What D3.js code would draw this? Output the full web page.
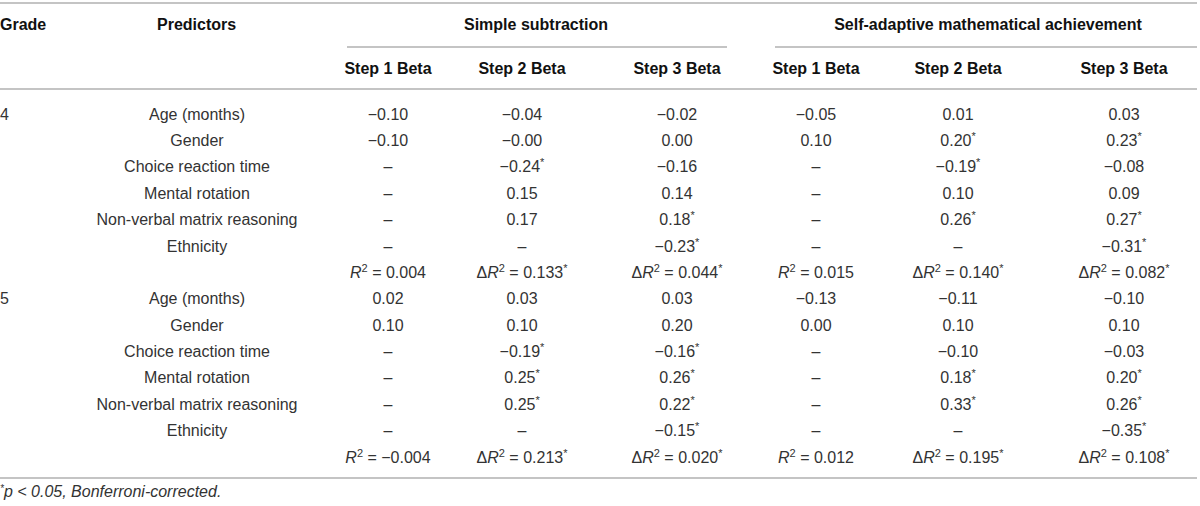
<!DOCTYPE html>
<html>
<head>
<meta charset="utf-8">
<script src="https://cdnjs.cloudflare.com/ajax/libs/d3/7.8.5/d3.min.js"></script>
<style>
  html, body { margin: 0; padding: 0; background: #fff; }
  svg { display: block; }
  text { font-family: "Liberation Sans", Arial, Helvetica, sans-serif; font-size: 16px; fill: #333; }
  .head { font-weight: bold; fill: #111; }
  .rule { stroke: #c4c4c4; stroke-width: 2; }
</style>
</head>
<body>
<div id="table"></div>
<script>
const grades = ["4", "5"];
const predictors = ["Age (months)", "Gender", "Choice reaction time", "Mental rotation",
                    "Non-verbal matrix reasoning", "Ethnicity"];
const groups = ["Simple subtraction", "Self-adaptive mathematical achievement"];
const stepLabels = ["Step 1 Beta", "Step 2 Beta", "Step 3 Beta"];

// betas, grade 4 rows then grade 5 rows ("–" = not entered)
const simpleStep1 = ["−0.10", "−0.10", "–", "–", "–", "–",
                     "0.02", "0.10", "–", "–", "–", "–"];
const simpleStep2 = ["−0.04", "−0.00", "−0.24*", "0.15", "0.17", "–",
                     "0.03", "0.10", "−0.19*", "0.25*", "0.25*", "–"];
const simpleStep3 = ["−0.02", "0.00", "−0.16", "0.14", "0.18*", "−0.23*",
                     "0.03", "0.20", "−0.16*", "0.26*", "0.22*", "−0.15*"];
const selfStep1 = ["−0.05", "0.10", "–", "–", "–", "–",
                   "−0.13", "0.00", "–", "–", "–", "–"];
const selfStep2 = ["0.01", "0.20*", "−0.19*", "0.10", "0.26*", "–",
                   "−0.11", "0.10", "−0.10", "0.18*", "0.33*", "–"];
const selfStep3 = ["0.03", "0.23*", "−0.08", "0.09", "0.27*", "−0.31*",
                   "−0.10", "0.10", "−0.03", "0.20*", "0.26*", "−0.35*"];

// model fit per grade: step 1 is R², steps 2 and 3 are ΔR²
const simpleR2 = [["0.004", "0.133*", "0.044*"], ["−0.004", "0.213*", "0.020*"]];
const selfR2 = [["0.015", "0.140*", "0.082*"], ["0.012", "0.195*", "0.108*"]];

const footnote = "p < 0.05, Bonferroni-corrected.";

// ---- layout ----
const width = 1200, height = 506;
const tableRight = 1197;
const colKeys = ["s1", "s2", "s3", "a1", "a2", "a3"];
const colCenters = [388, 522, 677, 816, 958, 1124];
const groupSpans = [[347, 727], [775, tableRight]];
const groupCenters = [536, 988];

const x = d3.scaleOrdinal().domain(colKeys).range(colCenters);
const stepCols = [simpleStep1, simpleStep2, simpleStep3, selfStep1, selfStep2, selfStep3];
const fitCols = [0, 1, 2].map(i => simpleR2.map(r => r[i]))
  .concat([0, 1, 2].map(i => selfR2.map(r => r[i])));

// 7 rows per grade: six predictors + fit row
const rowCount = grades.length * (predictors.length + 1);
const y = d3.scalePoint().domain(d3.range(rowCount)).range([114, 457]);

const svg = d3.select("#table").append("svg")
  .attr("width", width).attr("height", height);

function rule(y0, x0, x1) {
  svg.append("line").attr("class", "rule")
    .attr("x1", x0).attr("x2", x1).attr("y1", y0).attr("y2", y0);
}

// value with trailing significance star
function valueText(sel, str) {
  const star = str.endsWith("*");
  sel.append("tspan").text(star ? str.slice(0, -1) : str);
  if (star) sel.append("tspan").attr("font-size", 11).attr("dy", -6).text("*");
}

// R² / ΔR² cell
function fitText(sel, str, delta) {
  if (delta) sel.append("tspan").text("Δ");
  sel.append("tspan").attr("font-style", "italic").text("R");
  sel.append("tspan").attr("font-size", 11).attr("dy", -6).text("2");
  const star = str.endsWith("*");
  sel.append("tspan").attr("dy", 6).text(" = " + (star ? str.slice(0, -1) : str));
  if (star) sel.append("tspan").attr("font-size", 11).attr("dy", -6).text("*");
}

// ---- header ----
rule(3, 0, tableRight);
const h1 = 24, h2 = 68;
svg.append("text").attr("class", "head").attr("x", 0).attr("y", h1).attr("dy", "0.35em").text("Grade");
svg.append("text").attr("class", "head").attr("x", 157).attr("y", h1).attr("dy", "0.35em").text("Predictors");
groups.forEach((g, i) => {
  svg.append("text").attr("class", "head").attr("x", groupCenters[i]).attr("y", h1)
    .attr("dy", "0.35em").attr("text-anchor", "middle").text(g);
  rule(47, groupSpans[i][0], groupSpans[i][1]);
});
colKeys.forEach((k, i) => {
  svg.append("text").attr("class", "head").attr("x", x(k)).attr("y", h2)
    .attr("dy", "0.35em").attr("text-anchor", "middle").text(stepLabels[i % 3]);
});
rule(89, 0, tableRight);

// ---- body ----
const predX = 197;
grades.forEach((g, gi) => {
  const base = gi * (predictors.length + 1);
  svg.append("text").attr("x", 0).attr("y", y(base)).attr("dy", "0.35em").text(g);
  predictors.forEach((p, pi) => {
    const r = base + pi;
    svg.append("text").attr("x", predX).attr("y", y(r)).attr("dy", "0.35em")
      .attr("text-anchor", "middle").text(p);
    colKeys.forEach((k, ci) => {
      svg.append("text").attr("x", x(k)).attr("y", y(r)).attr("dy", "0.35em")
        .attr("text-anchor", "middle")
        .call(valueText, stepCols[ci][gi * predictors.length + pi]);
    });
  });
  const fr = base + predictors.length;
  colKeys.forEach((k, ci) => {
    svg.append("text").attr("x", x(k)).attr("y", y(fr)).attr("dy", "0.35em")
      .attr("text-anchor", "middle")
      .call(fitText, fitCols[ci][gi], ci % 3 !== 0);
  });
});

rule(478, 0, tableRight);

// ---- footnote ----
const fn = svg.append("text").attr("x", 0).attr("y", 497).attr("dy", "0.35em")
  .attr("font-style", "italic").attr("font-size", 15);
fn.append("tspan").attr("font-size", 10).attr("dy", -5).text("*");
fn.append("tspan").attr("dy", 5).text(footnote);
</script>
</body>
</html>
